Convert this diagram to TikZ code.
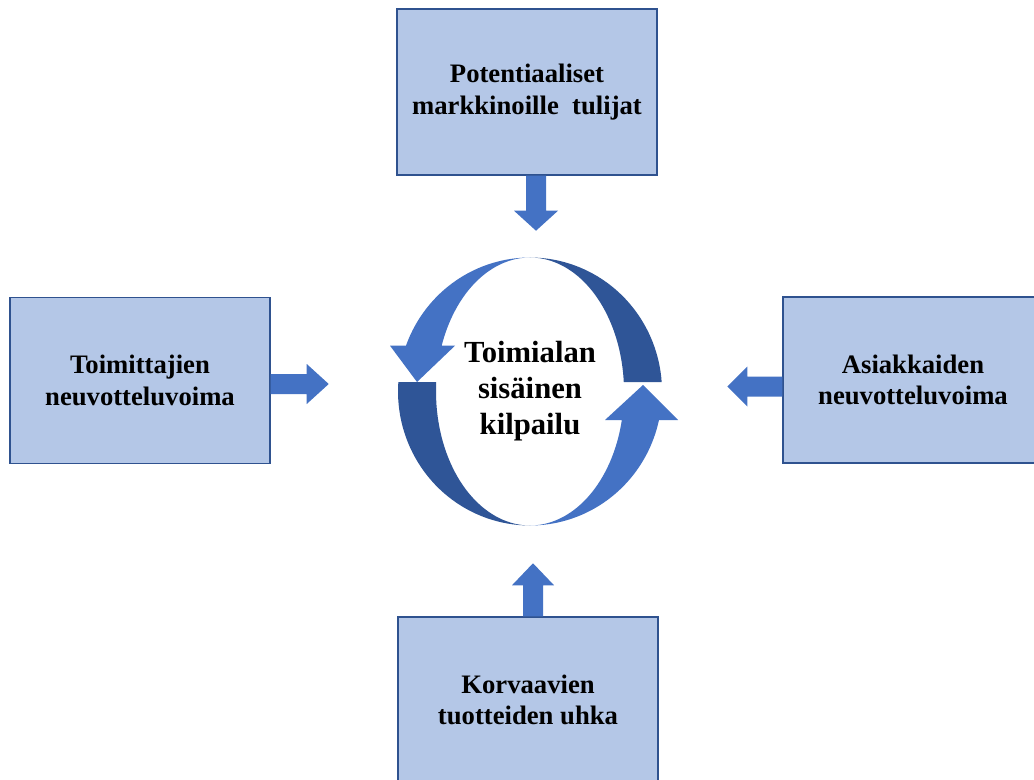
\documentclass[tikz,border=0pt]{standalone}
\usepackage{fontspec}
\setmainfont{Liberation Serif}
\usetikzlibrary{calc}
\definecolor{boxfill}{RGB}{180,199,231}
\definecolor{boxline}{RGB}{47,82,143}
\definecolor{arrowblue}{RGB}{68,114,196}
\definecolor{ringdark}{RGB}{47,85,151}
\begin{document}
\begin{tikzpicture}[x=0.75pt, y=-0.75pt,
  force/.style={draw=boxline, line width=1.1pt, fill=boxfill,
    minimum width=195pt, minimum height=124.5pt, inner sep=0pt,
    align=center, text=black, font=\bfseries\fontsize{20}{23.5}\selectfont},
  hubtext/.style={align=center, text=black, inner sep=0pt,
    font=\bfseries\fontsize{23}{27}\selectfont},
  blockarrow/.style={fill=arrowblue},
  ringlight/.style={fill=arrowblue},
  ringshade/.style={fill=ringdark}]
\clip (0,0) rectangle (1034,780);
\fill[white] (0,0) rectangle (1034,780);

% the five forces
\node[force] (top)    at (527,92)    {Potentiaaliset\\markkinoille\ \ tulijat};
\node[force] (left)   at (140,380.5) {Toimittajien\\neuvotteluvoima};
\node[force] (right)  at (913,380)   {Asiakkaiden\\neuvotteluvoima};
\node[force] (bottom) at (528,700)   {Korvaavien\\tuotteiden uhka};
\node[hubtext] (hub)  at (530,391.5) {Toimialan\\sis\"ainen\\kilpailu};

% block arrows pointing towards the centre
\fill[blockarrow] ($(top.south)+(-1,0)$) -- ++(0,35) -- ++(-12,0) -- ++(22,20)
  -- ++(22,-20) -- ++(-12,0) -- ++(0,-35) -- cycle;
\fill[blockarrow] ($(left.east)+(0,-6.5)$) -- ++(36,0) -- ++(0,-10) -- ++(22,20)
  -- ++(-22,20) -- ++(0,-10) -- ++(-36,0) -- cycle;
\fill[blockarrow] ($(right.west)+(0,-3.5)$) -- ++(-35,0) -- ++(0,-10) -- ++(-20,20)
  -- ++(20,20) -- ++(0,-10) -- ++(35,0) -- cycle;
\fill[blockarrow] ($(bottom.north)+(-5,0)$) -- ++(0,-31) -- ++(-11,0) -- ++(21,-22)
  -- ++(21,22) -- ++(-11,0) -- ++(0,31) -- cycle;

% circular arrows around the centre (twisted ribbon)
\begin{scope}[shift={(hub.center)}]
  % upper arrow: dark half on the right, light half with head on the left
  \fill[ringshade] plot[domain=4:90, samples=40] ({132*cos(\x)}, {-134*sin(\x)})
    -- plot[domain=90:4, samples=40] ({94*cos(\x)}, {-134*sin(\x)}) -- cycle;
  \fill[ringlight] plot[domain=90:160, samples=40] ({132*cos(\x)}, {-134*sin(\x)})
    -- (-140,-45.8) -- (-113,-9.5) -- (-75,-45.8)
    -- plot[domain=160:90, samples=40] ({94*cos(\x)}, {-134*sin(\x)}) -- cycle;
  % lower arrow: dark half on the left, light half with head on the right
  \fill[ringshade] plot[domain=176:270, samples=40] ({132*cos(\x)}, {-134*sin(\x)})
    -- plot[domain=270:176, samples=40] ({94*cos(\x)}, {-134*sin(\x)}) -- cycle;
  \fill[ringlight] plot[domain=270:347.7, samples=40] ({132*cos(\x)}, {-134*sin(\x)})
    -- (148,28.5) -- (113,-6.5) -- (75,28.5)
    -- plot[domain=347.7:270, samples=40] ({94*cos(\x)}, {-134*sin(\x)}) -- cycle;
\end{scope}
\end{tikzpicture}
\end{document}
